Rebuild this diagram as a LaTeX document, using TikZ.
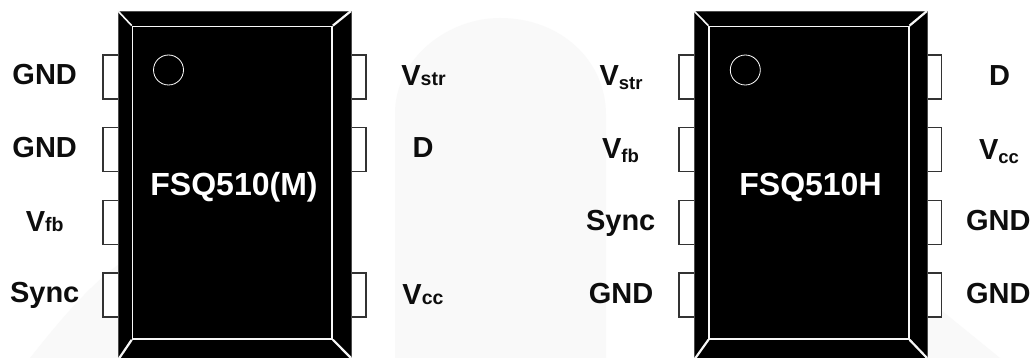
\documentclass[tikz,border=0pt]{standalone}
\usepackage{fontspec}
\setmainfont{Liberation Sans}
\tikzset{
  x=1pt,y=-1pt,
  wm/.style={fill=black!2.5,draw=none},
  chip/.style={rectangle,fill=black,draw=black!70,line width=0.6pt,inner sep=0pt,minimum width=233pt,minimum height=349pt},
  die/.style={rectangle,fill=black,draw=black!3,line width=1.6pt,inner sep=0pt,minimum width=199.5pt,minimum height=312.5pt},
  bevel/.style={draw=black!3,line width=1.6pt},
  dot/.style={circle,draw=white,line width=0.8pt,fill=black,inner sep=0pt,minimum size=30pt},
  pin/.style={rectangle,draw=black!80,line width=1.1pt,fill=white,inner sep=0pt,minimum width=29pt,minimum height=44pt},
  lab/.style={anchor=base,inner sep=0pt,font=\bfseries\fontsize{29}{30}\selectfont,text=black!95},
  title/.style={anchor=base,inner sep=0pt,font=\bfseries\fontsize{32}{34}\selectfont,text=white},
}
\newcommand{\subA}[1]{{\fontsize{19.5}{20}\selectfont #1}}
\newcommand{\subB}[1]{\raisebox{-4pt}{\fontsize{18.5}{20}\selectfont #1}}
\begin{document}
\begin{tikzpicture}
\useasboundingbox (0,0) rectangle (1033,358);
\clip (0,0) rectangle (1033,358);
\fill[white] (0,0) rectangle (1033,358);
% faint watermark
\path[wm] (395,358) -- (395,110) .. controls (398,55) and (450,18) .. (500,18) .. controls (560,18) and (606,60) .. (606,115) -- (606,358) -- cycle;
\path[wm] (30,358) .. controls (60,320) and (90,285) .. (118,265) -- (160,265) -- (160,358) -- cycle;
\path[wm] (900,270) -- (941,310) -- (1000,358) -- (900,358) -- cycle;
% pins
\foreach \n/\yy in {1/77,2/149.5,3/222.5,4/295}{
  \node[pin] (pal\n) at (117.5,\yy) {};
  \node[pin] (pbl\n) at (693.5,\yy) {};
  \node[pin] (pbr\n) at (927,\yy) {};
}
\foreach \n/\yy in {1/77,2/149.5,4/295}{
  \node[pin] (par\n) at (351.5,\yy) {};
}
% chip A
\node[chip] (chipA) at (234.5,185.5) {};
\node[die] (dieA) at (232.3,182.7) {};
\coordinate (atl) at (118,11); \coordinate (atr) at (351,11);
\coordinate (abl) at (118,360); \coordinate (abr) at (351,358);
\draw[bevel] (atl) -- (dieA.north west);
\draw[bevel,line width=2.2pt] (atr) -- (dieA.north east);
\draw[bevel,line width=2.2pt] (abl) -- (dieA.south west);
\draw[bevel,line width=2.2pt] (abr) -- (dieA.south east);
\node[dot] (dotA) at (168.5,70) {};
\node[title] (nameA) at (234,195.7) {FSQ510(M)};
% chip B
\node[chip] (chipB) at (810.5,185.5) {};
\node[die] (dieB) at (809,182.7) {};
\coordinate (btl) at (694,11); \coordinate (btr) at (927,11);
\coordinate (bbl) at (694,360); \coordinate (bbr) at (927,358);
\draw[bevel] (btl) -- (dieB.north west);
\draw[bevel,line width=2.2pt] (btr) -- (dieB.north east);
\draw[bevel,line width=2.2pt] (bbl) -- (dieB.south west);
\draw[bevel,line width=2.2pt] (bbr) -- (dieB.south east);
\node[dot] (dotB) at (745.3,70) {};
\node[title] (nameB) at (810.5,195.7) {FSQ510H};
% labels A
\node[lab] (la1) at (44.7,85) {GND};
\node[lab] (la2) at (44.7,157.7) {GND};
\node[lab] (la3) at (44.7,231) {V\subA{fb}};
\node[lab] (la4) at (44.7,302.7) {Sync};
\node[lab] (ra1) at (423.5,86) {V\subA{str}};
\node[lab] (ra2) at (423,158) {D};
\node[lab] (ra4) at (423,304) {V\subA{cc}};
% labels B
\node[lab] (lb1) at (621,86) {V\subB{str}};
\node[lab] (lb2) at (620.5,159) {V\subB{fb}};
\node[lab] (lb3) at (620.7,230.7) {Sync};
\node[lab] (lb4) at (621,303) {GND};
\node[lab] (rb1) at (999.7,85.5) {D};
\node[lab] (rb2) at (999,160) {V\subB{cc}};
\node[lab] (rb3) at (998.3,230.7) {GND};
\node[lab] (rb4) at (998.3,303) {GND};
\end{tikzpicture}
\end{document}
